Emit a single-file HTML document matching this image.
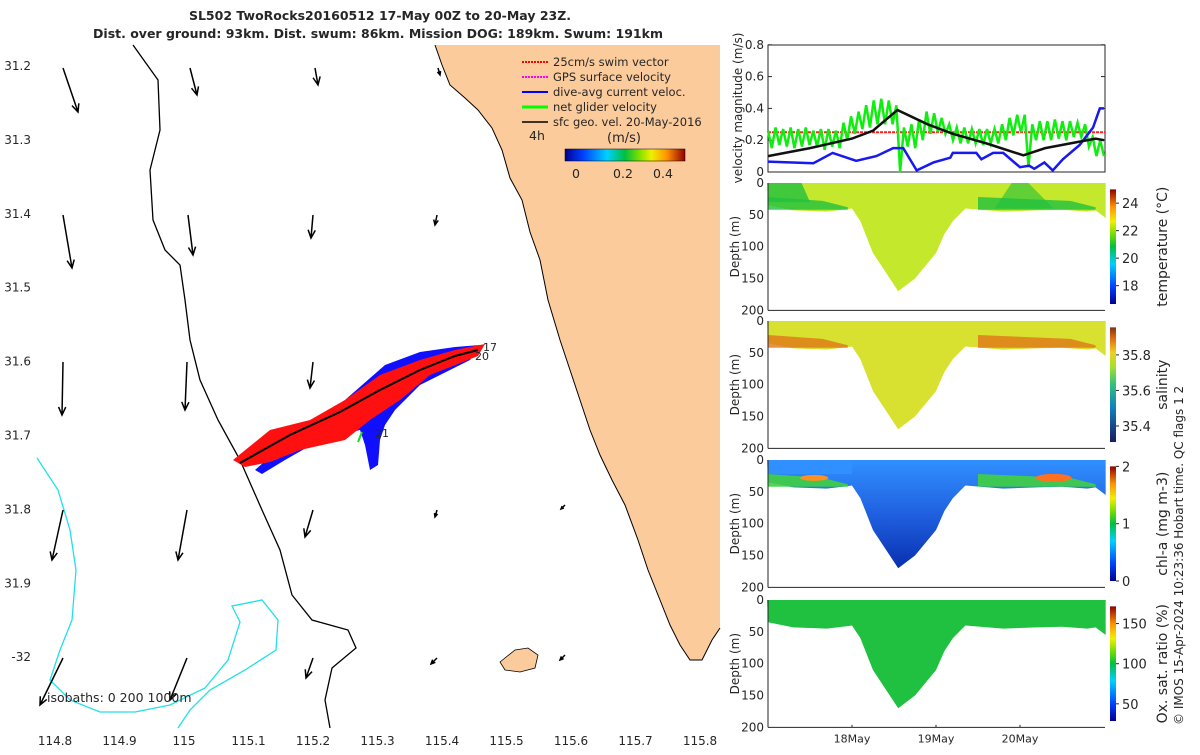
<!DOCTYPE html>
<html><head><meta charset="utf-8"><style>
body{margin:0;background:#fff;font-family:"Liberation Sans",sans-serif}
svg text{font-family:"DejaVu Sans","Liberation Sans",sans-serif;fill:#262626}
</style></head><body>
<svg id="fig" width="1200" height="750" viewBox="0 0 1200 750" xmlns="http://www.w3.org/2000/svg">
<defs>
<linearGradient id="jet" x1="0" y1="1" x2="0" y2="0"><stop offset="0" stop-color="#00008f"/><stop offset="0.15" stop-color="#0040ff"/><stop offset="0.35" stop-color="#00d0ff"/><stop offset="0.5" stop-color="#00c040"/><stop offset="0.62" stop-color="#80e000"/><stop offset="0.72" stop-color="#f0f000"/><stop offset="0.85" stop-color="#ff9000"/><stop offset="1" stop-color="#900000"/></linearGradient>
<linearGradient id="jeth" x1="0" y1="0" x2="1" y2="0"><stop offset="0" stop-color="#00008f"/><stop offset="0.15" stop-color="#0040ff"/><stop offset="0.35" stop-color="#00d0ff"/><stop offset="0.5" stop-color="#00c040"/><stop offset="0.62" stop-color="#80e000"/><stop offset="0.72" stop-color="#f0f000"/><stop offset="0.85" stop-color="#ff9000"/><stop offset="1" stop-color="#900000"/></linearGradient>
<linearGradient id="haline" x1="0" y1="1" x2="0" y2="0"><stop offset="0" stop-color="#1a1a60"/><stop offset="0.3" stop-color="#1080c0"/><stop offset="0.5" stop-color="#30c080"/><stop offset="0.65" stop-color="#a0e030"/><stop offset="0.78" stop-color="#f0d020"/><stop offset="0.9" stop-color="#e07010"/><stop offset="1" stop-color="#803010"/></linearGradient>
<linearGradient id="chlg" x1="0" y1="0" x2="0" y2="1"><stop offset="0" stop-color="#3090ff"/><stop offset="0.5" stop-color="#2060e0"/><stop offset="1" stop-color="#0830b0"/></linearGradient>
</defs>

<g>
<rect x="37" y="45" width="683" height="683" fill="#fff"/>
<polygon fill="#fbcb9c" points="435,45 720,45 720,628 712,640 702,660 690,660 680,645 670,625 660,600 648,570 638,540 625,505 612,480 600,455 590,430 580,400 570,370 560,340 548,300 540,260 530,232 522,200 510,178 502,150 492,128 478,110 465,98 450,85 442,65"/>
<polygon fill="#fbcb9c" stroke="#000" stroke-width="0.8" points="500,662 515,650 528,648 538,655 535,668 520,672 505,670"/>
<polyline fill="none" stroke="#000" stroke-width="1" points="435,45 442,65 450,85 465,98 478,110 492,128 502,150 510,178 522,200 530,232 540,260 548,300 560,340 570,370 580,400 590,430 600,455 612,480 625,505 638,540 648,570 660,600 670,625 680,645 690,660 702,660 712,640 720,628"/>
<polyline fill="none" stroke="#000" stroke-width="1.3" points="133,45 158,80 160,130 150,170 153,220 165,250 180,265 185,300 190,340 200,380 218,420 240,460 262,510 280,550 292,595 312,620 348,630 356,648 332,668 325,700 330,728"/>
<polyline fill="none" stroke="#22e0e8" stroke-width="1.3" points="37,458 58,490 70,530 76,570 72,620 60,650 50,680 70,700 100,712 135,712 170,705 205,688 228,660 240,622 232,606 262,600 278,620 276,650 245,670 210,690 190,710 178,728"/>
<g>
<polygon fill="#1010ff" points="255,470 300,430 345,400 385,365 420,352 455,347 480,345 470,360 420,385 395,410 385,425 380,440 378,465 370,470 365,445 360,430 320,440 285,460 262,474"/>
<polygon fill="#ff1010" points="233,460 270,430 310,420 345,400 380,375 420,360 455,350 485,344 478,356 430,375 400,400 370,420 345,440 300,450 270,462 245,467"/>
<polyline fill="none" stroke="#000" stroke-width="2" points="240,463 290,435 340,412 380,390 420,370 455,356 478,350"/>
<line x1="362" y1="432" x2="358" y2="442" stroke="#10e010" stroke-width="2"/>
<text x="483" y="351" font-size="11">17</text><text x="475" y="360" font-size="11">20</text><text x="375" y="437" font-size="11">21</text>
</g>
<g id="arrows" stroke="#000" stroke-width="1.5" fill="none"></g>
<g font-size="11.5">
<line x1="522" y1="62" x2="548" y2="62" stroke="#f00" stroke-width="2" stroke-dasharray="2,1"/><text x="553" y="66">25cm/s swim vector</text>
<line x1="522" y1="77" x2="548" y2="77" stroke="#f0f" stroke-width="2" stroke-dasharray="2,1"/><text x="553" y="81">GPS surface velocity</text>
<line x1="522" y1="92" x2="548" y2="92" stroke="#00f" stroke-width="2"/><text x="553" y="96">dive-avg current veloc.</text>
<line x1="522" y1="107" x2="548" y2="107" stroke="#0f0" stroke-width="3"/><text x="553" y="111">net glider velocity</text>
<line x1="522" y1="122" x2="548" y2="122" stroke="#000" stroke-width="1.5"/><text x="553" y="126">sfc geo. vel. 20-May-2016</text>
<text x="529" y="140" font-size="12.5">4h</text><text x="607" y="142" font-size="13">(m/s)</text>
<rect x="565" y="149" width="120" height="12" fill="url(#jeth)" stroke="#000" stroke-width="0.5"/>
<text x="576" y="178" text-anchor="middle" font-size="12.5">0</text><text x="623" y="178" text-anchor="middle" font-size="12.5">0.2</text><text x="663" y="178" text-anchor="middle" font-size="12.5">0.4</text>
</g>
<text x="47" y="702" font-size="12.5">isobaths: 0   200  1000m</text>
<g id="mapticks" font-size="12"></g>
</g>
<text x="380" y="20" text-anchor="middle" font-size="12.5" font-weight="bold">SL502 TwoRocks20160512 17-May 00Z to 20-May 23Z.</text>
<text x="378" y="38" text-anchor="middle" font-size="12.5" font-weight="bold">Dist. over ground: 93km. Dist. swum: 86km. Mission DOG: 189km. Swum: 191km</text>

<g id="vel"></g>
<g id="sections"></g>
<text transform="translate(1183,725) rotate(-90)" font-size="12">© IMOS 15-Apr-2024 10:23:36 Hobart time. QC flags 1  2</text>
</svg>
<script>
const NS='http://www.w3.org/2000/svg';
function mk(tag,attrs,parent){const e=document.createElementNS(NS,tag);for(const k in attrs)e.setAttribute(k,attrs[k]);parent.appendChild(e);return e;}
const lonTicks=[114.8,114.9,115,115.1,115.2,115.3,115.4,115.5,115.6,115.7,115.8];
const latTicks=[31.2,31.3,31.4,31.5,31.6,31.7,31.8,31.9,32];
const blackT=[0,0.5,1.0,1.25,1.54,1.9,2.2,2.6,3.04,3.3,3.6,3.9,4.0];
const blackV=[0.1,0.15,0.21,0.26,0.39,0.3,0.24,0.18,0.105,0.15,0.18,0.21,0.2];
const blueT=[0,0.54,0.77,1.05,1.29,1.49,1.61,1.77,1.97,2.17,2.2,2.48,2.54,2.68,2.8,3.0,3.11,3.17,3.29,3.39,3.51,3.71,3.87,3.95,4.0];
const blueV=[0.065,0.055,0.12,0.07,0.1,0.15,0.15,0.01,0.06,0.09,0.12,0.12,0.08,0.12,0.12,0.03,0.04,0.02,0.06,0.01,0.08,0.17,0.28,0.4,0.4];
const greenV=[0.26,0.15,0.28,0.17,0.27,0.16,0.28,0.15,0.27,0.16,0.28,0.17,0.26,0.16,0.27,0.14,0.27,0.16,0.26,0.15,0.31,0.2,0.35,0.24,0.38,0.27,0.42,0.28,0.45,0.3,0.46,0.3,0.45,0.3,0.42,0.0,0.28,0.16,0.3,0.15,0.33,0.2,0.38,0.24,0.37,0.25,0.34,0.24,0.3,0.2,0.28,0.18,0.28,0.18,0.27,0.18,0.27,0.17,0.27,0.18,0.27,0.18,0.3,0.2,0.34,0.23,0.36,0.25,0.36,0.03,0.3,0.2,0.32,0.2,0.32,0.2,0.33,0.21,0.32,0.2,0.32,0.22,0.31,0.22,0.3,0.16,0.22,0.1,0.2,0.1];
const swimV=0.25;
const velTicks=[0,0.2,0.4,0.6,0.8];
const dayTicks=[1,2,3];
const dayLabels=['18May','19May','20May'];
const depthTicks=[0,50,100,150,200];
const profileT=[0,0.3,0.7,0.95,1.0,1.1,1.25,1.45,1.55,1.75,2.0,2.1,2.2,2.35,2.8,3.2,3.5,3.8,3.9,4.02];
const profileD=[35,43,45,41,40,60,110,150,170,150,110,80,60,40,45,43,42,45,43,55];

const lonX=v=>55+(v-114.8)*645;
const latY=v=>66+(v-31.2)*739;
const mt=document.getElementById('mapticks');
lonTicks.forEach(v=>{const t=mk('text',{x:lonX(v),y:745,'text-anchor':'middle'},mt);t.textContent=String(v);

});
latTicks.forEach(v=>{const t=mk('text',{x:31,y:latY(v)+4,'text-anchor':'end'},mt);t.textContent=v===32?'-32':String(v);

});
const arrowTail=[[63,68],[190,68],[315,68],[438,68],[63,215],[188,215],[313,215],[437,215],[63,362],[187,362],[313,362],[63,510],[187,510],[313,510],[437,510],[63,658],[187,658],[313,658],[437,658],[565,505],[565,655]];
const arrowVec=[[15,44],[7,27],[3,17],[2,7],[9,53],[5,40],[-2,23],[-2,10],[-1,53],[-2,48],[-3,26],[-11,50],[-9,50],[-8,27],[-2,7],[-23,47],[-17,42],[-7,20],[-6,6],[-4,4],[-5,5]];
const ag=document.getElementById('arrows');
arrowTail.forEach((p,i)=>{const [dx,dy]=arrowVec[i];const x2=p[0]+dx,y2=p[1]+dy;const L=Math.hypot(dx,dy),ux=dx/L,uy=dy/L,h=Math.min(8,L*0.5);
const g=mk('path',{d:`M${p[0]},${p[1]}L${x2},${y2}M${x2-h*ux+h*0.45*uy},${y2-h*uy-h*0.45*ux}L${x2},${y2}L${x2-h*ux-h*0.45*uy},${y2-h*uy+h*0.45*ux}`},ag);

});

const tx=t=>768+t*84;
const vy=v=>172-v*159;
const vel=document.getElementById('vel');
mk('rect',{x:768,y:45,width:337,height:127,fill:'#fff',stroke:'#262626','stroke-width':1},vel);
velTicks.forEach(v=>{mk('line',{x1:768,x2:772,y1:vy(v),y2:vy(v),stroke:'#262626'},vel);mk('line',{x1:1101,x2:1105,y1:vy(v),y2:vy(v),stroke:'#262626'},vel);
const t=mk('text',{x:764,y:vy(v)+4,'text-anchor':'end','font-size':12},vel);t.textContent=v===0?'0':v.toFixed(1);

});
const yl=mk('text',{transform:'translate(742,108) rotate(-90)','text-anchor':'middle','font-size':12},vel);yl.textContent='velocity magnitude (m/s)';


const rl=mk('line',{x1:768,x2:1105,y1:vy(swimV),y2:vy(swimV),stroke:'#ff2020','stroke-width':2,'stroke-dasharray':'3,1'},vel);


const gp=mk('polyline',{fill:'none',stroke:'#10ee10','stroke-width':2.5,points:greenV.map((v,i)=>tx(i*4.0/(greenV.length-1))+','+vy(v)).join(' ')},vel);


const bp=mk('polyline',{fill:'none',stroke:'#1818f0','stroke-width':2.5,points:blueT.map((t,i)=>tx(t)+','+vy(blueV[i])).join(' ')},vel);


const kp=mk('polyline',{fill:'none',stroke:'#111','stroke-width':2.5,points:blackT.map((t,i)=>tx(t)+','+vy(blackV[i])).join(' ')},vel);



const panels=[
{y0:183,name:'temperature',label:'temperature (°C)',cb:'url(#jet)',ticks:['24','22','20','18'],tickF:[0.88,0.64,0.4,0.16],fill:'#c4e82c',top:'#20c040',topOpacity:0.8},
{y0:321,name:'salinity',label:'salinity',cb:'url(#haline)',ticks:['35.8','35.6','35.4'],tickF:[0.76,0.45,0.14],fill:'#d8e030',top:'#e07818',topOpacity:0.8},
{y0:460,name:'chlorophyll',label:'chl-a (mg m-3)',cb:'url(#jet)',ticks:['2','1','0'],tickF:[1,0.5,0],fill:'url(#chlg)',top:'#40d040',topOpacity:0.9},
{y0:600,name:'oxygen',label:'Ox. sat. ratio (%)',cb:'url(#jet)',ticks:['150','100','50'],tickF:[0.85,0.5,0.15],fill:'#20c040',top:'#20c040',topOpacity:0}
];
const sec=document.getElementById('sections');
panels.forEach((p,pi)=>{
const dy=d=>p.y0+d*0.637;
const g=mk('g',{},sec);


const pts=[tx(-0.01)+','+dy(0)].concat(profileT.map((t,i)=>tx(t)+','+dy(profileD[i]))).concat([tx(4.02)+','+dy(0)]);
mk('polygon',{points:pts.join(' '),fill:p.fill},g);
if(p.topOpacity>0){
const band=[[0,0.95],[2.5,3.9]];
band.forEach(b=>{mk('polygon',{points:`${tx(b[0])},${dy(22)} ${tx(b[1]-0.3)},${dy(28)} ${tx(b[1])},${dy(38)} ${tx(b[1])},${dy(42)} ${tx(b[0])},${dy(42)}`,fill:p.top,opacity:p.topOpacity},g);});
if(pi===0){mk('polygon',{points:`${tx(0)},${dy(0)} ${tx(0.4)},${dy(0)} ${tx(0.5)},${dy(30)} ${tx(0)},${dy(30)}`,fill:'#20c040',opacity:0.8},g);
mk('polygon',{points:`${tx(2.9)},${dy(0)} ${tx(3.1)},${dy(0)} ${tx(3.4)},${dy(40)} ${tx(2.7)},${dy(40)}`,fill:'#20c040',opacity:0.6},g);}
if(pi===2){mk('rect',{x:tx(0),y:dy(0),width:tx(1)-tx(0),height:14,fill:'#3090ff'},g);
mk('ellipse',{cx:tx(0.55),cy:dy(28),rx:14,ry:3,fill:'#ff9020'},g);mk('ellipse',{cx:tx(3.4),cy:dy(28),rx:18,ry:4,fill:'#ff7020'},g);}
}
mk('line',{x1:768,x2:1105,y1:dy(200),y2:dy(200),stroke:'#262626'},g);
mk('line',{x1:768,x2:768,y1:dy(0),y2:dy(200),stroke:'#262626'},g);
depthTicks.forEach(d=>{const t=mk('text',{x:764,y:dy(d)+4,'text-anchor':'end','font-size':12},g);t.textContent=String(d);

});
const dl=mk('text',{transform:`translate(739,${dy(100)}) rotate(-90)`,'text-anchor':'middle','font-size':12},g);dl.textContent='Depth (m)';


const cy0=dy(10),cy1=dy(190);
const cb=mk('rect',{x:1110,y:cy0,width:6,height:cy1-cy0,fill:p.cb},g);


p.ticks.forEach((s,i)=>{const yy=cy1-p.tickF[i]*(cy1-cy0);mk('line',{x1:1116,x2:1119,y1:yy,y2:yy,stroke:'#262626'},g);const t=mk('text',{x:1122,y:yy+5,'font-size':13},g);t.textContent=s;

});
const cl=mk('text',{transform:`translate(1167,${dy(100)}) rotate(-90)`,'text-anchor':'middle','font-size':14},g);cl.textContent=p.label;


if(pi===3){dayTicks.forEach((d,i)=>{mk('line',{x1:tx(d),x2:tx(d),y1:dy(200),y2:dy(196),stroke:'#262626'},g);const t=mk('text',{x:tx(d),y:dy(200)+15,'text-anchor':'middle','font-size':11},g);t.textContent=dayLabels[i];

});}
});
</script>
</body></html>
